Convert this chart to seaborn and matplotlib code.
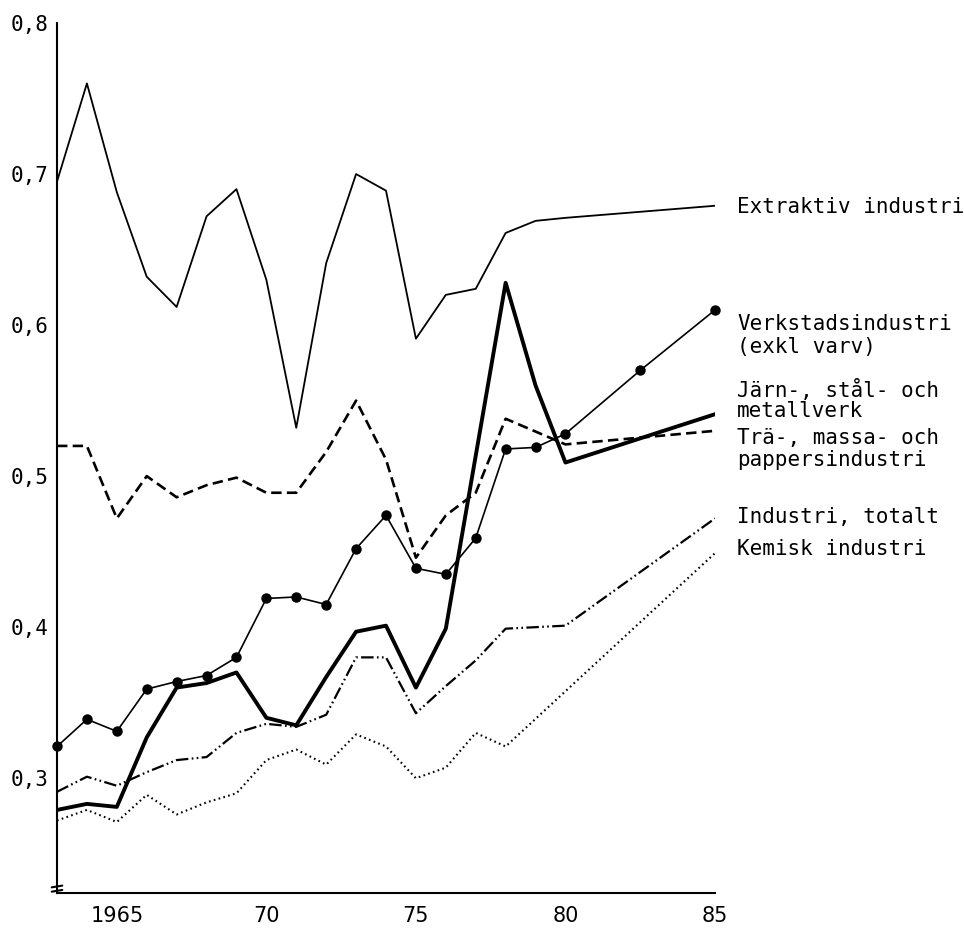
import matplotlib
matplotlib.use("Agg")
import matplotlib.pyplot as plt
import seaborn as sns
import pandas as pd

# Years and values per industry (ratio, 1963-1985)
years_extr = [1963, 1964, 1965, 1966, 1967, 1968, 1969, 1970, 1971, 1972, 1973,
              1974, 1975, 1976, 1977, 1978, 1979, 1980, 1985]
extraktiv = [0.695, 0.760, 0.688, 0.632, 0.612, 0.672, 0.690, 0.630, 0.532, 0.641,
             0.700, 0.689, 0.591, 0.620, 0.624, 0.661, 0.669, 0.671, 0.679]

years_verk = [1963, 1964, 1965, 1966, 1967, 1968, 1969, 1970, 1971, 1972, 1973,
              1974, 1975, 1976, 1977, 1978, 1979, 1980, 1982.5, 1985]
verkstad = [0.321, 0.339, 0.331, 0.359, 0.364, 0.368, 0.380, 0.419, 0.420, 0.415,
            0.452, 0.474, 0.439, 0.435, 0.459, 0.518, 0.519, 0.528, 0.570, 0.610]

years_jarn = [1963, 1964, 1965, 1966, 1967, 1968, 1969, 1970, 1971, 1972, 1973,
              1974, 1975, 1976, 1978, 1979, 1980, 1985]
jarn = [0.279, 0.283, 0.281, 0.327, 0.360, 0.363, 0.370, 0.340, 0.335, 0.367,
        0.397, 0.401, 0.360, 0.399, 0.628, 0.560, 0.509, 0.541]

years_tra = [1963, 1964, 1965, 1966, 1967, 1968, 1969, 1970, 1971, 1972, 1973,
             1974, 1975, 1976, 1977, 1978, 1980, 1985]
tra = [0.520, 0.520, 0.472, 0.500, 0.486, 0.494, 0.499, 0.489, 0.489, 0.516,
       0.550, 0.511, 0.446, 0.474, 0.489, 0.538, 0.521, 0.530]

years_tot = [1963, 1964, 1965, 1966, 1967, 1968, 1969, 1970, 1971, 1972, 1973,
             1974, 1975, 1976, 1977, 1978, 1980, 1985]
totalt = [0.291, 0.301, 0.295, 0.304, 0.312, 0.314, 0.330, 0.336, 0.334, 0.342,
          0.380, 0.380, 0.343, 0.361, 0.378, 0.399, 0.401, 0.472]

years_kem = [1963, 1964, 1965, 1966, 1967, 1968, 1969, 1970, 1971, 1972, 1973,
             1974, 1975, 1976, 1977, 1978, 1985]
kemisk = [0.272, 0.279, 0.271, 0.289, 0.276, 0.284, 0.290, 0.312, 0.319, 0.309,
          0.329, 0.321, 0.300, 0.307, 0.330, 0.321, 0.449]

# Axis ticks
y_ticks = [0.3, 0.4, 0.5, 0.6, 0.7, 0.8]
y_tick_labels = ["0,3", "0,4", "0,5", "0,6", "0,7", "0,8"]
x_major = [1965, 1970, 1975, 1980, 1985]
x_major_labels = ["1965", "70", "75", "80", "85"]
x_minor = [y for y in range(1964, 1985) if y not in x_major]

# Right-hand series labels (lines, figure-pixel y centre)
series_labels = [
    ("Extraktiv industri", 207),
    ("Verkstadsindustri", 324),
    ("(exkl varv)", 347),
    ("Järn-, stål- och", 390),
    ("metallverk", 411),
    ("Trä-, massa- och", 438),
    ("pappersindustri", 460),
    ("Industri, totalt", 517),
    ("Kemisk industri", 549),
]

sns.set_style("white")
plt.rcParams["font.family"] = ["DejaVu Sans"]
plt.rcParams["lines.scale_dashes"] = False

W, H = 964, 933
fig = plt.figure(figsize=(W / 100, H / 100), dpi=100)
ax = fig.add_axes([57 / W, 1 - 893 / H, 658 / W, 870 / H])

def draw(xs, ys, **kw):
    df = pd.DataFrame({"år": xs, "kvot": ys})
    sns.lineplot(data=df, x="år", y="kvot", ax=ax, color="black",
                 estimator=None, sort=False, legend=False, **kw)

draw(years_extr, extraktiv, linewidth=1.3)
draw(years_tra, tra, linewidth=1.9, linestyle=(0, (7.5, 3.8)))
draw(years_tot, totalt, linewidth=1.6,
     linestyle=(0, (9, 2.4, 1.2, 2.4, 1.2, 2.4)))
draw(years_kem, kemisk, linewidth=1.5, linestyle=(0, (1.2, 2.4)))
draw(years_jarn, jarn, linewidth=2.8)
draw(years_verk, verkstad, linewidth=1.2, marker="o", markersize=7.5,
     markeredgewidth=0, markerfacecolor="black", clip_on=False)

ax.set_xlim(1963, 1985)
ax.set_ylim(0.224, 0.8)
ax.set_xlabel("")
ax.set_ylabel("")

ax.set_yticks(y_ticks)
ax.set_yticklabels(y_tick_labels, family="DejaVu Sans Mono", fontsize=15)
ax.set_xticks(x_major)
ax.set_xticklabels(x_major_labels, fontsize=15)
ax.set_xticks(x_minor, minor=True)

for side in ("top", "right"):
    ax.spines[side].set_visible(False)
for side in ("left", "bottom"):
    ax.spines[side].set_linewidth(1.5)
    ax.spines[side].set_color("black")

ax.tick_params(axis="x", which="major", direction="in", length=8, width=1.4,
               pad=9, colors="black")
ax.tick_params(axis="x", which="minor", direction="in", length=5, width=1.4)
ax.tick_params(axis="y", which="major", direction="in", length=4, width=1.4,
               pad=6, colors="black")

# Axis break mark at the foot of the y axis
for yb in (0.0075, 0.0025):
    ax.plot([-0.008, 0.008], [yb - 0.001, yb + 0.001], transform=ax.transAxes,
            color="black", linewidth=1.5, clip_on=False)

for text, ypx in series_labels:
    fig.text(737 / W, 1 - ypx / H, text, family="DejaVu Sans Mono",
             fontsize=15, ha="left", va="center", color="black")

fig.savefig("out.png", dpi=100, facecolor="white")
